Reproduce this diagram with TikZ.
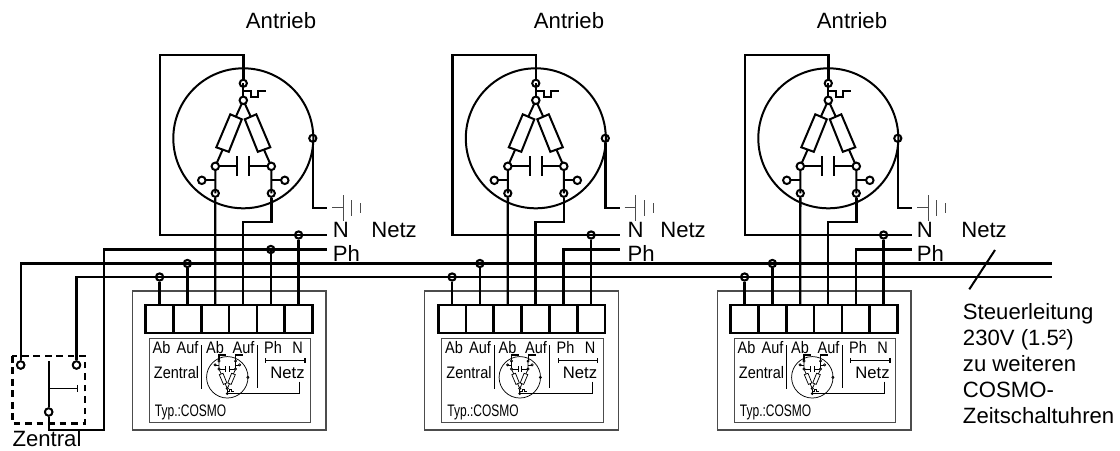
\documentclass[tikz,border=0pt]{standalone}
\usepackage{fontspec}
\setmainfont{Liberation Sans}
\newfontfamily\cadfont[FakeStretch=0.87]{Liberation Sans}
\newfontfamily\cadnarrow[FakeStretch=0.72]{Liberation Sans}
\usetikzlibrary{calc, positioning}
\definecolor{boxgrey}{gray}{0.3}
\tikzset{
    wire/.style={line width=1.8pt},
    thinwire/.style={line width=0.8pt, boxgrey},
    terminal/.style={circle, draw, fill=white, inner sep=0pt, minimum size=5.6pt},
    junction/.style={circle, draw, inner sep=0pt, minimum size=5.4pt},
    busjunction/.style={junction, line width=1.6pt},
    clamp/.style={draw, line width=2pt, inner sep=0pt, outer sep=0pt, minimum width=20.85pt, minimum height=21pt},
    label/.style={font=\fontsize{16.6}{19.5}\selectfont, inner sep=0pt, anchor=base west},
    cad/.style={font=\fontsize{12.5}{14}\cadfont, inner sep=0pt, anchor=base},
    pics/motorcore/.style={code={
        \draw (0,0) circle[radius=70];
        \draw (0,-38) -- (-7.5,-21.5) (0,-38) -- (7.5,-21.5);
        \draw (-13,-24) -- (-1.5,-19) -- (-14.5,13.5) -- (-27,9) -- cycle;
        \draw (13,-24) -- (1.5,-19) -- (14.5,13.5) -- (27,9) -- cycle;
        \draw (-20.5,11) -- (-28,28) -- (-28,55) (20.5,11) -- (28,28) -- (28,55);
        \draw (-28,28) -- (-6,28) (-6,18) -- (-6,38) (6,18) -- (6,38) (6,28) -- (28,28);
        \draw (-41.5,42) -- (-28,42) (41.5,42) -- (28,42);
        \draw (0,-47.5) -- (8,-47.5) -- (8,-41.5) -- (15,-41.5) -- (15,-47.5) -- (23,-47.5);
        \draw (0,-55) -- (0,-38);
        \node[junction] (-top) at (0,-55) {};
        \node[terminal] (-hub) at (0,-38) {};
        \node[terminal] at (-28,28) {};
        \node[terminal] at (28,28) {};
        \node[terminal] at (-41.5,42) {};
        \node[terminal] at (41.5,42) {};
        \node[junction] (-ab) at (-28,55) {};
        \node[junction] (-auf) at (28,55) {};
        \node[junction] (-side) at (69.5,0) {};
    }}
}
\begin{document}
\begin{tikzpicture}[x=0.75pt, y=-0.75pt]
    \useasboundingbox (0,0) rectangle (1120,450);
    % Control lines across all units
    \coordinate (busa) at (20.7,263.5);
    \coordinate (busb) at (76.5,277);
    \coordinate (busaend) at (1052,263.5);
    \coordinate (busbend) at (1052,277);

    \foreach \u/\dx/\tx/\nx/\ax in {1/0/332.7/371/281, 2/292.5/627.3/660/569, 3/585/916.7/961/852} {
        \node[label, anchor=base] (drive\u) at (\ax,28) {Antrieb};
        \node[label] (netz\u) at (\nx,237) {Netz};
        \node[label] (n\u) at (\tx,237) {N};
        \node[label] (ph\u) at (\tx,261) {Ph};
        \coordinate (nend\u) at (327+\dx,235);
        \coordinate (phend\u) at (327+\dx,249.5);

        \draw[thinwire] (132.3+\dx,291) rectangle (326+\dx,430);
        \draw[thinwire] (149.3+\dx,338.3) rectangle (310.7+\dx,422.3);

        \pic[line width=1.5pt] (m\u) at (243.3+\dx,138.3) {motorcore};

        % Terminal strip
        \foreach \c in {1,...,6} {
            \node[clamp] (clamp\u-\c) at (159.6+\dx+\c*27.8-27.8,319) {};
        }

        \draw[wire] (m\u-top) -- (243.3+\dx,55) -- (160+\dx,55) |- (nend\u);
        \draw[wire] (m\u-ab) -- (clamp\u-3.north);
        \draw[wire] (m\u-auf) |- ($(clamp\u-4.north |- 0,221.7)$) -- (clamp\u-4.north);
        \draw[wire] (m\u-side) |- (327+\dx,207.7);

        % Earth symbol
        \draw[thinwire] (332+\dx,207.7) -- (343.3+\dx,207.7) (343.3+\dx,195) -- (343.3+\dx,221);
        \draw[thinwire] (351.7+\dx,200) -- (351.7+\dx,216) (360.7+\dx,203) -- (360.7+\dx,213);

        \node[busjunction] (jab\u) at (clamp\u-1 |- busb) {};
        \node[busjunction] (jauf\u) at (clamp\u-2 |- busa) {};
        \node[busjunction] (jn\u) at (clamp\u-6 |- nend\u) {};
        \draw[wire] (jab\u) -- (clamp\u-1.north);
        \draw[wire] (jauf\u) -- (clamp\u-2.north);
        \draw[wire] (jn\u) -- (clamp\u-6.north);

        % Front plate
        \node[cad] (plab\u) at (161.5+\dx,353.3) {Ab};
        \node[cad] (plauf\u) at (187.5+\dx,353.3) {Auf};
        \node[cad] (plabm\u) at (215+\dx,353.3) {Ab};
        \node[cad] (plaufm\u) at (243.5+\dx,353.3) {Auf};
        \node[cad] (plph\u) at (273+\dx,353.3) {Ph};
        \node[cad] (pln\u) at (297.5+\dx,353.3) {N};
        \node[cad] (plz\u) at (176.5+\dx,378.3) {Zentral};
        \node[cad, font=\fontsize{12.5}{14}\selectfont] (plnetz\u) at (287.5+\dx,378.3) {Netz};
        \node[cad, anchor=base west, font=\fontsize{12.5}{14}\cadnarrow] (pltyp\u) at (154.7+\dx,416.7) {Typ.:COSMO};

        \draw[thinwire, black] (201.7+\dx,345) -- (201.7+\dx,389);
        \draw[thinwire, black] (257.3+\dx,345) -- (257.3+\dx,388);
        \draw[thinwire, black] (265.7+\dx,358) -- (265.7+\dx,363) (265.7+\dx,360.7) -- (305+\dx,360.7) (305+\dx,358) -- (305+\dx,363);

        \pic[xscale=0.296, yscale=-0.296, transform shape, line width=0.55pt] (mini\u) at (227.3+\dx,377.3) {motorcore};
        \draw[thinwire, black] (mini\u-ab) |- (226+\dx,355);
        \draw[thinwire, black] (mini\u-auf) |- (243+\dx,355);
        \draw[thinwire, black] (299.7+\dx,381.7) |- (mini\u-top);
    }

    % Ph feeds
    \draw[wire] (clamp1-5.north) -- (clamp1-5 |- phend1);
    \node[busjunction] (jph1) at (clamp1-5 |- phend1) {};
    \draw[wire] (clamp2-5.north) |- (phend2);
    \draw[wire] (clamp3-5.north) |- (phend3);

    % Central switch
    \node[terminal, line width=1.4pt] (swa) at (20.7,365) {};
    \node[terminal, line width=1.4pt] (swb) at (76.5,365) {};
    \node[terminal, line width=1.4pt] (swc) at (48.7,412) {};
    \coordinate (swtop) at (48.7,361);
    \coordinate (swarm) at (48.7,388.3);
    \coordinate (swtip) at (77.3,388.3);
    \coordinate (swfeed) at (104,430);
    \draw[wire, dashed, dash pattern=on 5pt off 3.6pt] (12.3,356) rectangle (85,423.3);
    \draw[line width=1.4pt] (swtop) -- (swc);
    \draw[line width=1.2pt] (swarm) -- (swtip) ++(0,-3.5) -- ++(0,7);
    \draw[wire] (swc) |- (swfeed) -- (swfeed |- phend1) -- (phend1);
    \draw[wire] (swa) -- (busa) -- (busaend);
    \draw[wire] (swb) -- (busb) -- (busbend);
    \node[terminal, line width=1.4pt] at (swa) {};
    \node[terminal, line width=1.4pt] at (swb) {};
    \node[terminal, line width=1.4pt] at (swc) {};
    \node[label] (zentral) at (12.3,446.7) {Zentral};

    % Outgoing control line
    \coordinate (slasha) at (995,250);
    \coordinate (slashb) at (969.3,289.3);
    \draw[line width=1.5pt] (slasha) -- (slashb);
    \node[label, anchor=north west, align=left] (steuer) at (962.7,303) {Steuerleitung\\230V (1.5²)\\zu weiteren\\COSMO-\\Zeitschaltuhren};
\end{tikzpicture}
\end{document}
